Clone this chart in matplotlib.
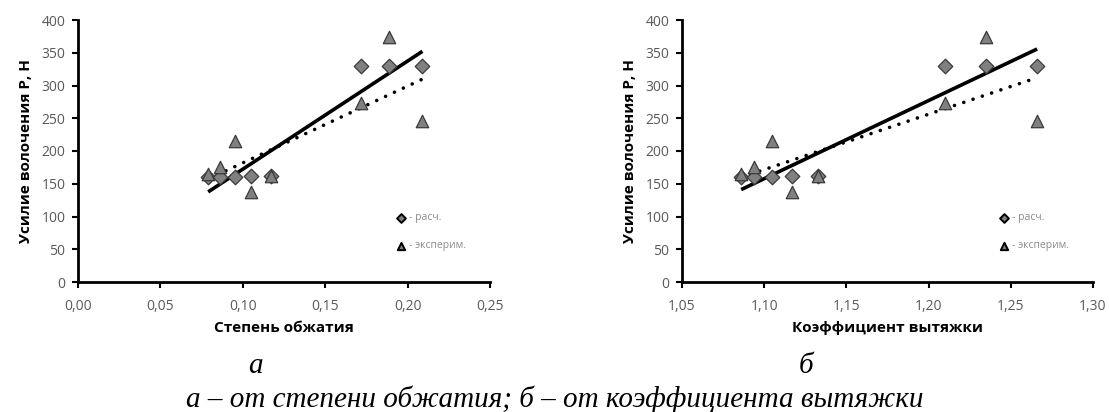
import numpy as np
import matplotlib
matplotlib.use("Agg")
import matplotlib.pyplot as plt

# степень обжатия / коэффициент вытяжки
eps = [0.079, 0.086, 0.095, 0.105, 0.117, 0.172, 0.189, 0.209]
mu = [1.086, 1.094, 1.105, 1.117, 1.133, 1.210, 1.235, 1.266]
# усилие волочения, Н
p_calc = [160, 160, 160, 162, 162, 330, 330, 330]
p_exp = [165, 176, 215, 138, 162, 274, 374, 246]

x_ticks_a = [0.00, 0.05, 0.10, 0.15, 0.20, 0.25]
x_ticks_b = [1.05, 1.10, 1.15, 1.20, 1.25, 1.30]
y_ticks = [0, 50, 100, 150, 200, 250, 300, 350, 400]

gray_txt = '#595959'
plt.rcParams['font.family'] = ['Open Sans', 'DejaVu Sans']

fig = plt.figure(figsize=(11.09, 4.12), dpi=100)
W, H = 1109, 412
ax1 = fig.add_axes([78 / W, 1 - 282 / H, (490 - 78) / W, (282 - 20) / H])
ax2 = fig.add_axes([682 / W, 1 - 282 / H, (1093 - 682) / W, (282 - 20) / H])


def draw(ax, x, xticks, xlabel, leg_x):
    x = np.array(x)
    # линии тренда (линейные)
    for y, ls in ((p_calc, '-'), (p_exp, (0, (0.01, 2.7)))):
        k, b = np.polyfit(x, y, 1)
        xx = np.array([x.min(), x.max()])
        ax.plot(xx, k * xx + b, color='black', lw=2.6, ls=ls,
                dash_capstyle='round', solid_capstyle='butt', zorder=2)
    ax.scatter(x, p_calc, marker='D', s=55, color='#808080',
               edgecolor='#3a3a3a', linewidth=0.9, zorder=3)
    ax.scatter(x, p_exp, marker='^', s=80, color='#808080',
               edgecolor='#3a3a3a', linewidth=0.9, zorder=3)

    ax.set_xlim(xticks[0], xticks[-1])
    ax.set_ylim(0, 400)
    ax.set_xticks(xticks)
    ax.set_xticklabels([f'{t:.2f}'.replace('.', ',') for t in xticks])
    ax.set_yticks(y_ticks)
    for s in ('top', 'right'):
        ax.spines[s].set_visible(False)
    for s in ('left', 'bottom'):
        ax.spines[s].set_linewidth(2)
    ax.tick_params(direction='out', length=4, width=1.5, labelsize=10,
                   labelcolor=gray_txt)
    ax.tick_params(axis='x', pad=8)
    ax.tick_params(axis='y', pad=5)
    ax.set_xlabel(xlabel, fontsize=11, fontweight='bold', labelpad=5)
    ax.set_ylabel('Усилие волочения Р, Н', fontsize=11, fontweight='bold',
                  labelpad=6)

    # подписи вместо легенды
    ax.scatter([leg_x], [98], marker='D', s=20, color='#7f7f7f',
               edgecolor='black', linewidth=1.4, clip_on=False)
    ax.scatter([leg_x], [55], marker='^', s=28, color='#7f7f7f',
               edgecolor='black', linewidth=1.4, clip_on=False)
    dx = (xticks[-1] - xticks[0]) * 0.02
    ax.text(leg_x + dx, 98, '- расч.', fontsize=7.5, color='#8c8c8c',
            va='center')
    ax.text(leg_x + dx, 55, '- эксперим.', fontsize=7.5, color='#8c8c8c',
            va='center')


draw(ax1, eps, x_ticks_a, 'Степень обжатия', 0.196)
draw(ax2, mu, x_ticks_b, 'Коэффициент вытяжки', 1.246)

serif = ['Liberation Serif', 'DejaVu Serif']
fig.text(255 / W, 1 - 373 / H, 'а', fontsize=21, style='italic',
         family=serif, ha='center', va='baseline')
fig.text(806 / W, 1 - 373 / H, 'б', fontsize=21, style='italic',
         family=serif, ha='center', va='baseline')
fig.text(555 / W, 1 - 407 / H,
         'а – от степени обжатия; б – от коэффициента вытяжки',
         fontsize=21, style='italic', family=serif, ha='center',
         va='baseline')

fig.savefig('out.png', dpi=100)
